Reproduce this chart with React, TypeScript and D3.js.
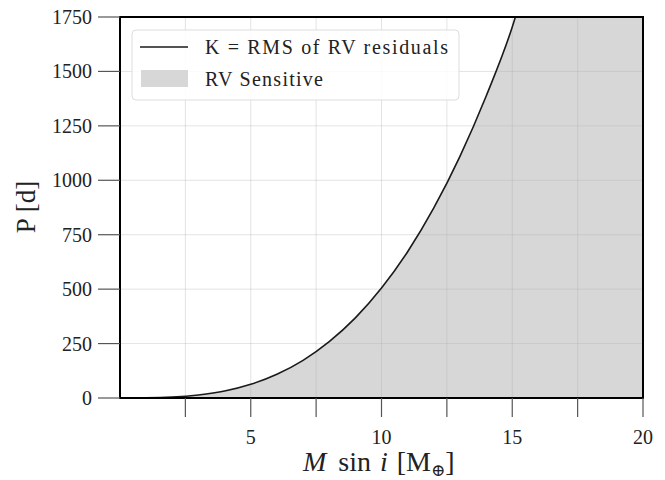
import React from "react";
import * as d3 from "d3";

const massValues = [0, 1, 2, 3, 4, 5, 6, 7, 8, 9, 10, 11, 12, 13, 14, 15, 15.12];
const periodValues = [0, 0.5, 4, 14, 32, 63, 109, 173, 259, 368, 505, 672, 873, 1110, 1386, 1704, 1750];
const xTicks = [2.5, 5, 7.5, 10, 12.5, 15, 17.5, 20];
const xLabels: Record<number, string> = { 5: "5", 10: "10", 15: "15", 20: "20" };
const yTicks = [0, 250, 500, 750, 1000, 1250, 1500, 1750];
const legendLine = "K = RMS of RV residuals";
const legendFill = "RV Sensitive";

const W = 665, H = 480;
const M = { left: 120, right: 22, top: 17, bottom: 82 };
const FONT = "'Liberation Serif', 'DejaVu Serif', serif";

export default function App() {
  const x = d3.scaleLinear().domain([0, 20]).range([M.left, W - M.right]);
  const y = d3.scaleLinear().domain([0, 1750]).range([H - M.bottom, M.top]);
  const pts = massValues.map((m, i) => [m, periodValues[i]] as [number, number]);
  const line = d3.line<[number, number]>().x(d => x(d[0])).y(d => y(d[1])).curve(d3.curveMonotoneX);
  const x0 = x.range()[0], x1 = x.range()[1], y0 = y.range()[0], y1 = y.range()[1];
  const fillPath = `${line(pts)}L${x(20)},${y(1750)}L${x(20)},${y(0)}L${x(0)},${y(0)}Z`;
  return (
    <svg width={W} height={H} style={{ position: "absolute", left: 0, top: 0, background: "#fff" }}>
      <defs>
        <clipPath id="plot"><rect x={x0} y={y1} width={x1 - x0} height={y0 - y1} /></clipPath>
      </defs>
      <g clipPath="url(#plot)">
        <path d={fillPath} fill="#d7d7d7" />
        {xTicks.map(t => (
          <line key={"gx" + t} x1={x(t)} x2={x(t)} y1={y1} y2={y0} stroke="#b0b0b0" strokeOpacity={0.35} strokeWidth={1} />
        ))}
        {yTicks.map(t => (
          <line key={"gy" + t} x1={x0} x2={x1} y1={y(t)} y2={y(t)} stroke="#b0b0b0" strokeOpacity={0.35} strokeWidth={1} />
        ))}
        <path d={line(pts) || ""} fill="none" stroke="#1a1a1a" strokeWidth={1.6} />
      </g>
      <rect x={x0} y={y1} width={x1 - x0} height={y0 - y1} fill="none" stroke="#000" strokeWidth={2} />
      {xTicks.map(t => (
        <g key={"xt" + t}>
          <line x1={x(t)} x2={x(t)} y1={y0} y2={y0 + 19} stroke="#555" strokeWidth={1.2} />
          {xLabels[t] && (
            <text x={x(t)} y={y0 + 46} textAnchor="middle" fontFamily={FONT} fontSize={20} fill="#222">{xLabels[t]}</text>
          )}
        </g>
      ))}
      {yTicks.map(t => (
        <g key={"yt" + t}>
          <line x1={x0 - 22} x2={x0} y1={y(t)} y2={y(t)} stroke="#555" strokeWidth={1.2} />
          <text x={x0 - 28} y={y(t)} dy="0.35em" textAnchor="end" fontFamily={FONT} fontSize={20} fill="#222">{t}</text>
        </g>
      ))}
      <text x={303} y={471} fontFamily={FONT} fontSize={28} fill="#222">
        <tspan fontStyle="italic">M</tspan>
        <tspan dx={12}>sin</tspan>
        <tspan dx={9} fontStyle="italic">i</tspan>
        <tspan dx={9}>[M</tspan>
        <tspan fontSize={17} dy={5}>⊕</tspan>
        <tspan dy={-5}>]</tspan>
      </text>
      <text transform={`translate(35,${207}) rotate(-90)`} textAnchor="middle" fontFamily={FONT} fontSize={27} fill="#222">P [d]</text>
      <g>
        <rect x={132} y={30} width={327} height={70} rx={4} fill="#fff" fillOpacity={0.85} stroke="#ddd" strokeWidth={1} />
        <line x1={140} x2={188} y1={47} y2={47} stroke="#1a1a1a" strokeWidth={1.6} />
        <text x={205} y={47} dy="0.35em" fontFamily={FONT} fontSize={20} fill="#222" textLength={243} lengthAdjust="spacing">{legendLine}</text>
        <rect x={141} y={70} width={47} height={17} fill="#d7d7d7" />
        <text x={205} y={79} dy="0.35em" fontFamily={FONT} fontSize={20} fill="#222" textLength={118} lengthAdjust="spacing">{legendFill}</text>
      </g>
    </svg>
  );
}
